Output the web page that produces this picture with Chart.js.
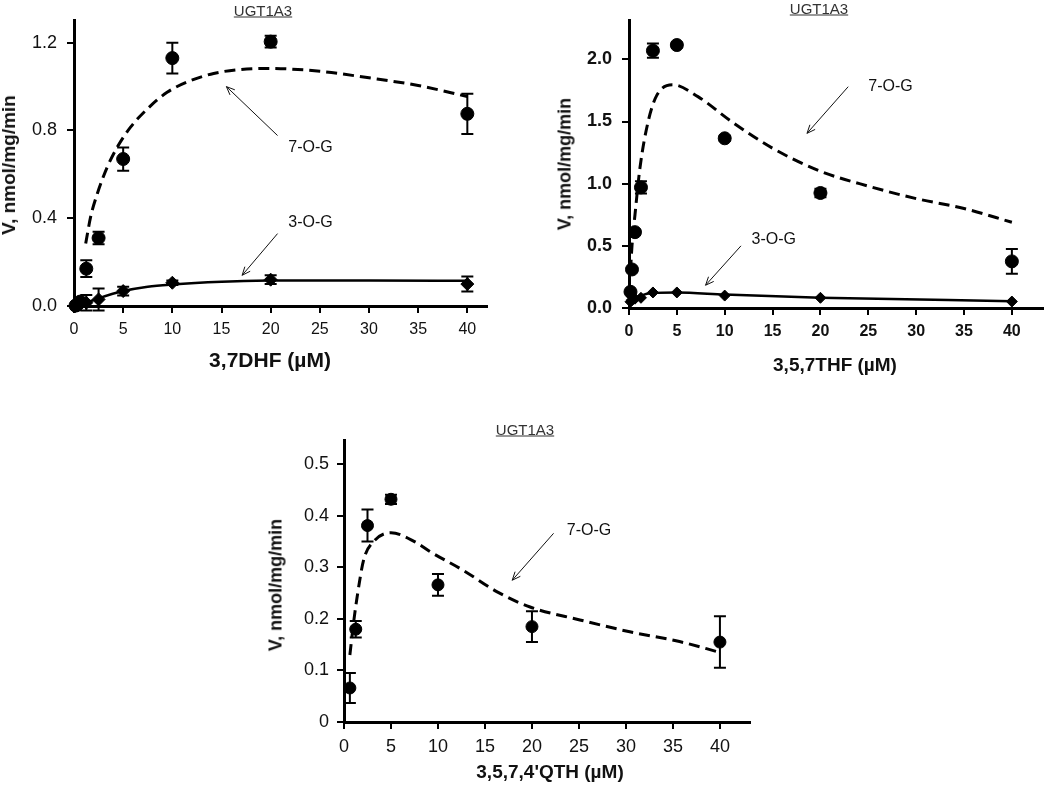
<!DOCTYPE html>
<html>
<head>
<meta charset="utf-8">
<script src="https://cdn.jsdelivr.net/npm/chart.js@4.4.1/dist/chart.umd.min.js"></script>
<style>
  body { margin: 0; background: #fff; font-family: "Liberation Sans", Arial, sans-serif; }
  #page { position: relative; width: 1050px; height: 791px; overflow: hidden; }
  canvas { position: absolute; left: 0; top: 0; }
  .txt { position: absolute; transform: translate(-50%, -50%); white-space: nowrap; color: #111; }
  .ttl { font-size: 15px; text-decoration: underline; color: #333; }
  .ax { font-weight: bold; }
  .rot { transform: translate(-50%, -50%) rotate(-90deg); }
</style>
</head>
<body>
<div id="page">
  <canvas id="c1" width="1050" height="791"></canvas>
  <canvas id="c2" width="1050" height="791"></canvas>
  <canvas id="c3" width="1050" height="791"></canvas>

  <div class="txt ttl" style="left:263px;top:10px">UGT1A3</div>
  <div class="txt ttl" style="left:819px;top:8px">UGT1A3</div>
  <div class="txt ttl" style="left:525px;top:429px">UGT1A3</div>

  <div class="txt ax rot" style="left:9px;top:165px;font-size:19px">V, nmol/mg/min</div>
  <div class="txt ax rot" style="left:565px;top:164px;font-size:18px">V, nmol/mg/min</div>
  <div class="txt ax rot" style="left:276px;top:585px;font-size:18px">V, nmol/mg/min</div>

  <div class="txt ax" style="left:270px;top:360px;font-size:21px">3,7DHF (µM)</div>
  <div class="txt ax" style="left:835px;top:365px;font-size:19px">3,5,7THF (µM)</div>
  <div class="txt ax" style="left:550px;top:772px;font-size:19px">3,5,7,4'QTH (µM)</div>
</div>

<script>
// 3,7DHF
const dhfConc = [0.156, 0.3125, 0.625, 1.25, 2.5, 5, 10, 20, 40];
const dhf7OG = [0.002, 0.005, 0.02, 0.17, 0.31, 0.67, 1.13, 1.205, 0.876];
const dhf7OGErr = [0, 0, 0.01, 0.038, 0.028, 0.053, 0.07, 0.027, 0.092];
const dhf3OG = [0.0, 0.002, 0.008, 0.015, 0.03, 0.068, 0.106, 0.12, 0.1];
const dhf3OGErr = [0, 0, 0.005, 0.035, 0.05, 0.02, 0.01, 0.02, 0.034];
const dhf7OGFitX = [1.19, 1.69, 2.37, 3.38, 4.4, 5.75, 7.45, 9.47, 11.85, 14.2, 16.9, 19.6, 25, 30, 35, 40];
const dhf7OGFitY = [0.285, 0.406, 0.512, 0.633, 0.724, 0.815, 0.898, 0.974, 1.027, 1.06, 1.078, 1.083, 1.07, 1.04, 1.005, 0.955];
const dhf3OGFitX = [0, 0.625, 1.25, 2.5, 5, 7.5, 10, 15, 20, 30, 40];
const dhf3OGFitY = [0, 0.005, 0.015, 0.035, 0.068, 0.088, 0.098, 0.11, 0.116, 0.116, 0.115];

// 3,5,7THF
const thfConc = [0.156, 0.3125, 0.625, 1.25, 2.5, 5, 10, 20, 40];
const thf7OG = [0.13, 0.31, 0.61, 0.97, 2.07, 2.115, 1.365, 0.925, 0.375];
const thf7OGErr = [0.01, 0.01, 0.02, 0.05, 0.057, 0.02, 0.02, 0.035, 0.1];
const thf3OG = [0.05, 0.065, 0.075, 0.082, 0.125, 0.125, 0.1, 0.082, 0.052];
const thf7OGFitX = [0.156, 0.3125, 0.625, 1.15, 2, 2.9, 4.6, 7.2, 10.7, 15, 20, 25, 30, 35, 40];
const thf7OGFitY = [0.3, 0.5, 0.75, 1.13, 1.5, 1.71, 1.795, 1.7, 1.5, 1.285, 1.1, 0.98, 0.88, 0.8, 0.69];
const thf3OGFitX = [0.156, 0.625, 1.25, 2.5, 5, 10, 20, 40];
const thf3OGFitY = [0.04, 0.075, 0.1, 0.12, 0.124, 0.108, 0.083, 0.055];

// 3,5,7,4'QTH
const qthConc = [0.625, 1.25, 2.5, 5, 10, 20, 40];
const qth7OG = [0.066, 0.18, 0.381, 0.432, 0.266, 0.185, 0.155];
const qth7OGErr = [0.029, 0.016, 0.031, 0.009, 0.021, 0.03, 0.05];
const qth7OGFitX = [0.625, 1, 1.4, 2.1, 3.2, 5, 7.5, 9.2, 12.7, 16.3, 19.8, 25.1, 30.4, 35.7, 40];
const qth7OGFitY = [0.13, 0.19, 0.243, 0.315, 0.351, 0.367, 0.35, 0.33, 0.294, 0.2525, 0.223, 0.198, 0.175, 0.156, 0.135];

const xTicks = [0, 5, 10, 15, 20, 25, 30, 35, 40];

const pts = (xs, ys) => xs.map((x, i) => ({ x, y: ys[i] }));
const FONT = "'Liberation Sans', Arial, sans-serif";

// error bars under the markers
const errorBars = {
  id: "errorBars",
  beforeDatasetsDraw(chart) {
    const { ctx, scales: { x, y } } = chart;
    chart.data.datasets.forEach(ds => {
      if (!ds.errors) return;
      ctx.save();
      ctx.strokeStyle = "#000";
      ctx.lineWidth = 2;
      ds.data.forEach((p, i) => {
        const e = ds.errors[i];
        if (!e) return;
        const px = x.getPixelForValue(p.x);
        const t = y.getPixelForValue(p.y + e);
        const b = y.getPixelForValue(p.y - e);
        ctx.beginPath();
        ctx.moveTo(px, t); ctx.lineTo(px, b);
        ctx.moveTo(px - 6, t); ctx.lineTo(px + 6, t);
        ctx.moveTo(px - 6, b); ctx.lineTo(px + 6, b);
        ctx.stroke();
      });
      ctx.restore();
    });
  }
};

// "7-O-G" / "3-O-G" labels with arrows, placed in data coordinates
const notes = {
  id: "notes",
  afterDatasetsDraw(chart, args, opts) {
    const { ctx, scales: { x, y } } = chart;
    (opts.items || []).forEach(n => {
      ctx.save();
      ctx.fillStyle = "#111";
      ctx.font = "16px " + FONT;
      ctx.textBaseline = "middle";
      ctx.fillText(n.label, x.getPixelForValue(n.at[0]), y.getPixelForValue(n.at[1]));
      const x1 = x.getPixelForValue(n.from[0]), y1 = y.getPixelForValue(n.from[1]);
      const x2 = x.getPixelForValue(n.to[0]), y2 = y.getPixelForValue(n.to[1]);
      const a = Math.atan2(y2 - y1, x2 - x1);
      ctx.strokeStyle = "#111";
      ctx.lineWidth = 1;
      ctx.beginPath();
      ctx.moveTo(x1, y1); ctx.lineTo(x2, y2);
      ctx.moveTo(x2 - 9 * Math.cos(a - 0.4), y2 - 9 * Math.sin(a - 0.4));
      ctx.lineTo(x2, y2);
      ctx.lineTo(x2 - 9 * Math.cos(a + 0.4), y2 - 9 * Math.sin(a + 0.4));
      ctx.stroke();
      ctx.restore();
    });
  }
};

function makeChart(id, o) {
  const axisGrid = { drawOnChartArea: false, color: "#000", lineWidth: 2, tickLength: 7 };
  return new Chart(document.getElementById(id), {
    type: "scatter",
    data: { datasets: o.datasets },
    plugins: [errorBars, notes],
    options: {
      responsive: false,
      animation: false,
      layout: { padding: o.padding },
      plugins: { legend: { display: false }, tooltip: { enabled: false }, notes: { items: o.notes } },
      scales: {
        x: {
          type: "linear", min: 0, max: o.xMax,
          afterBuildTicks: s => { s.ticks = xTicks.map(v => ({ value: v })); },
          afterFit: s => { s.height = 40; },
          ticks: { color: "#111", padding: 7, font: { family: FONT, size: o.xFont, weight: o.bold ? "bold" : "normal" } },
          grid: axisGrid,
          border: { color: "#000", width: 3 }
        },
        y: {
          min: 0, max: o.yMax,
          afterBuildTicks: s => { s.ticks = o.yTicks.map(v => ({ value: v })); },
          afterFit: s => { s.width = 60; },
          ticks: {
            color: "#111", padding: o.yPad,
            font: { family: FONT, size: 18, weight: o.bold ? "bold" : "normal" },
            callback: o.yFmt
          },
          grid: axisGrid,
          border: { color: "#000", width: 3 }
        }
      }
    }
  });
}

const markers = (data, style, r, errors) => ({
  data, errors, showLine: false, clip: false,
  pointStyle: style, pointRadius: r, pointHoverRadius: r,
  backgroundColor: "#000", borderColor: "#000", borderWidth: 1
});
const fitLine = (data, dashed, w) => ({
  type: "line", data, clip: false, pointRadius: 0, showLine: true,
  borderColor: "#000", borderWidth: w, borderDash: dashed ? [11, 6] : [],
  cubicInterpolationMode: "monotone", fill: false
});

makeChart("c1", {
  padding: { left: 14, right: 563, top: 20, bottom: 445 },
  xMax: 42, yMax: 1.3, yTicks: [0, 0.4, 0.8, 1.2], yPad: 10, xFont: 16,
  yFmt: v => v.toFixed(1),
  datasets: [
    markers(pts(dhfConc, dhf7OG), "circle", 6.5, dhf7OGErr),
    markers(pts(dhfConc, dhf3OG), "rectRot", 6.5, dhf3OGErr),
    fitLine(pts(dhf7OGFitX, dhf7OGFitY), true, 3),
    fitLine(pts(dhf3OGFitX, dhf3OGFitY), false, 2.5)
  ],
  notes: [
    { label: "7-O-G", at: [21.8, 0.724], from: [20.7, 0.777], to: [15.5, 1.0] },
    { label: "3-O-G", at: [21.8, 0.379], from: [20.7, 0.33], to: [17.1, 0.14] }
  ]
});

makeChart("c2", {
  padding: { left: 569, right: 7, top: 18, bottom: 443 },
  xMax: 43.2, yMax: 2.31, yTicks: [0, 0.5, 1, 1.5, 2], yPad: 10, xFont: 16, bold: true,
  yFmt: v => v.toFixed(1),
  datasets: [
    markers(pts(thfConc, thf7OG), "circle", 6.5, thf7OGErr),
    markers(pts(thfConc, thf3OG), "rectRot", 5.5, null),
    fitLine(pts(thf7OGFitX, thf7OGFitY), true, 3),
    fitLine(pts(thf3OGFitX, thf3OGFitY), false, 2.5)
  ],
  notes: [
    { label: "7-O-G", at: [25.0, 1.78], from: [22.9, 1.78], to: [18.6, 1.405] },
    { label: "3-O-G", at: [12.8, 0.547], from: [11.7, 0.5], to: [8.0, 0.183] }
  ]
});

makeChart("c3", {
  padding: { left: 284, right: 300, top: 440, bottom: 29 },
  xMax: 43.2, yMax: 0.547, yTicks: [0, 0.1, 0.2, 0.3, 0.4, 0.5], yPad: 8, xFont: 18,
  yFmt: v => (v === 0 ? "0" : v.toFixed(1)),
  datasets: [
    markers(pts(qthConc, qth7OG), "circle", 6, qth7OGErr),
    fitLine(pts(qth7OGFitX, qth7OGFitY), true, 3)
  ],
  notes: [
    { label: "7-O-G", at: [23.7, 0.372], from: [22.3, 0.366], to: [17.9, 0.275] }
  ]
});
</script>
</body>
</html>
